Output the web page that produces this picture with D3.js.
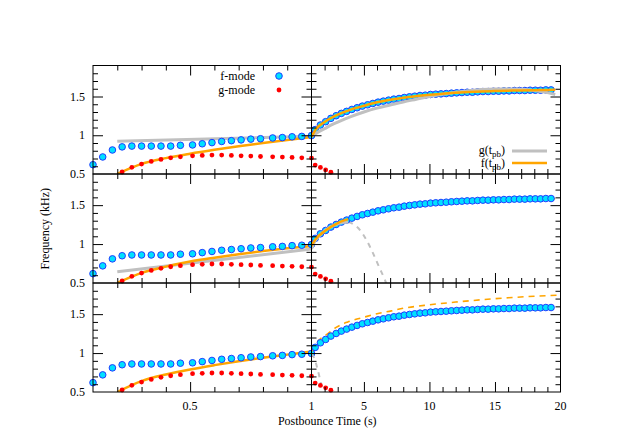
<!DOCTYPE html>
<html><head><meta charset="utf-8">
<script src="https://cdn.jsdelivr.net/npm/d3@7"></script>
<style>body{margin:0;background:#fff}text{font-family:"Liberation Serif","DejaVu Serif",serif;font-size:12px;fill:#000}</style>
</head><body><svg id="c" width="623" height="436"></svg>
<script>
// ---- data: mode frequencies (kHz) vs postbounce time (s)
const fTimesEarly = [0.10,0.14,0.18,0.22,0.26,0.30,0.34,0.38,0.42,0.46,0.51,0.55,0.59,0.63,0.67,0.71,0.75,0.79,0.84,0.88,0.92,0.96,1.00];
const fEarly = [0.62,0.72,0.81,0.85,0.86,0.86,0.86,0.86,0.86,0.87,0.875,0.89,0.905,0.92,0.93,0.94,0.95,0.955,0.965,0.97,0.98,0.985,0.995];
const gTimesEarly = [0.22,0.26,0.30,0.34,0.38,0.42,0.46,0.51,0.55,0.59,0.63,0.67,0.71,0.75,0.79,0.84,0.88,0.92,0.96,1.00];
const gEarly = [0.526,0.586,0.628,0.662,0.688,0.709,0.722,0.735,0.74,0.744,0.744,0.74,0.735,0.731,0.726,0.722,0.718,0.714,0.709,0.705];
const fTimesLate = [1.28,1.68,2.08,2.48,2.88,3.28,3.68,4.08,4.48,4.88,5.28,5.68,6.08,6.48,6.88,7.28,7.68,8.08,8.48,8.88,9.28,9.68,10.08,10.48,10.88,11.28,11.68,12.08,12.48,12.88,13.28,13.68,14.08,14.48,14.88,15.28,15.68,16.08,16.48,16.88,17.28,17.68,18.08,18.48,18.88,19.28];
const fLate = [1.073,1.132,1.175,1.218,1.252,1.282,1.308,1.333,1.355,1.376,1.393,1.41,1.427,1.44,1.453,1.466,1.474,1.487,1.496,1.504,1.513,1.517,1.526,1.53,1.534,1.538,1.543,1.547,1.551,1.555,1.555,1.56,1.564,1.564,1.568,1.568,1.572,1.572,1.577,1.577,1.577,1.581,1.581,1.581,1.585,1.585];
const gTimesLate = [1.28,1.68,2.08,2.48];
const gLate = [0.615,0.585,0.553,0.523];

// ---- fitted curves
const fitTimesEarly = [0.2,0.3,0.4,0.5,0.6,0.7,0.8,0.9,1.0];
const topOrangeEarly = [0.5,0.63,0.705,0.762,0.812,0.858,0.900,0.940,0.978];
const midOrangeEarly = [0.5,0.63,0.71,0.775,0.825,0.87,0.91,0.945,0.975];
const botOrangeEarly = [0.5,0.64,0.725,0.79,0.845,0.895,0.94,0.98,1.02];
const grayEarlyTimes = [0.2,1.0];
const topGrayEarly = [0.923,0.987];
const midGrayEarly = [0.645,0.936];

const topOrangeLateT = [1,1.3,2,3,4,5,6,7,8,9,10,11,12,13,14,15,16,17,18,19,19.6];
const topOrangeLate = [0.978,1.07,1.17,1.265,1.33,1.38,1.425,1.458,1.485,1.505,1.522,1.537,1.548,1.557,1.564,1.570,1.575,1.579,1.582,1.585,1.588];
const topGrayLateT = [1,1.5,2,2.6,3,4,5,6,7,8,9,10,11,12,13,14,15,16,17,18,19,19.6];
const topGrayLate = [0.987,1.04,1.085,1.14,1.17,1.24,1.30,1.35,1.39,1.43,1.465,1.50,1.53,1.555,1.575,1.59,1.597,1.598,1.593,1.578,1.55,1.525];

const midGraySolidT = [1,1.2,1.5,2,2.5,3,3.5,3.8];
const midGraySolid = [0.936,1.02,1.09,1.17,1.225,1.26,1.28,1.285];
const midGrayDashT = [3.8,4.2,4.7,5.2,5.7,6.2,6.6,6.8];
const midGrayDash = [1.285,1.255,1.18,1.05,0.88,0.69,0.54,0.45];
const midOrangeSolidT = [1,1.3,2,3,3.8];
const midOrangeSolid = [0.975,1.06,1.165,1.27,1.32];
const midOrangeDashT = [3.8,5,6,7,8,9,10,12,14,16,18,19.6];
const midOrangeDash = [1.32,1.38,1.42,1.453,1.48,1.50,1.517,1.54,1.556,1.568,1.578,1.583];

const botOrangeDashT = [1,1.36,2.25,2.88,3.77,5.1,6,7.1,8,10,12,14,16,18,20];
const botOrangeDash = [1.02,1.124,1.25,1.33,1.40,1.465,1.505,1.542,1.575,1.62,1.655,1.685,1.71,1.73,1.745];
const botGrayDashT = [1,1.23,1.45,1.6,1.74,1.9];
const botGrayDash = [0.99,0.93,0.80,0.70,0.59,0.47];

// ---- ticks / labels
const yMajor = [1.0,1.5];
const yMinor = [0.6,0.7,0.8,0.9,1.1,1.2,1.3,1.4,1.6,1.7,1.8];
const yLabels = [0.5,1,1.5];
const xLeftMajor = [0.5];
const xLeftMinor = [0.2,0.3,0.4,0.6,0.7,0.8,0.9];
const xLeftLabels = [0.5];
const xRightMajor = [5,10,15];
const xRightMinor = [2,3,4,6,7,8,9,11,12,13,14,16,17,18,19];
const xRightLabels = [1,5,10,15,20];

// ---- layout
const svg = d3.select("#c");
const X0 = 93, X1 = 311.5, X2 = 560.5;
const rows = [[65.5,174],[174,283],[283,392]];
const xL = d3.scaleLinear().domain([0.1,1]).range([X0,X1]);
const xR = d3.scaleLinear().domain([1,20]).range([X1,X2]);
const ys = rows.map(r => d3.scaleLinear().domain([0.5,1.9]).range([r[1],r[0]]));

const C_F = "#00e0ff", C_FS = "#1f3cff", C_G = "#ff0000", C_GRAY = "#c0c0c0", C_OR = "#ffa500";

const defs = svg.append("defs");
function clip(id, x, scaleY){
  defs.append("clipPath").attr("id", id).append("rect")
    .attr("x", x.range()[0]).attr("y", scaleY.range()[1])
    .attr("width", x.range()[1]-x.range()[0]).attr("height", scaleY.range()[0]-scaleY.range()[1]);
}
function zip(t, v){ return t.map((d,i)=>[d, v[i]]); }

function curve(g, x, y, t, v, color, w, dash){
  const line = d3.line().x(d=>x(d[0])).y(d=>y(d[1])).curve(d3.curveMonotoneX);
  g.append("path").attr("d", line(zip(t,v))).attr("fill","none")
    .attr("stroke", color).attr("stroke-width", w)
    .attr("stroke-dasharray", dash || null);
}
function points(g, x, y, t, v, kind){
  const data = zip(t,v).filter(d => d[1] >= 0.5 && d[1] <= 1.9);
  if (kind === "f") {
    g.selectAll(null).data(data).join("circle")
      .attr("cx", d=>x(d[0])).attr("cy", d=>y(d[1])).attr("r", 3.3)
      .attr("fill", C_F).attr("stroke", C_FS).attr("stroke-width", 1);
  } else {
    g.selectAll(null).data(data).join("circle")
      .attr("cx", d=>x(d[0])).attr("cy", d=>y(d[1])).attr("r", 2.4)
      .attr("fill", C_G);
  }
}
function ticks(g, x, y, xMaj, xMin){
  const [ya, yb] = [y.range()[1], y.range()[0]];
  const [xa, xb] = x.range();
  const mk = (gen, tr, vals, len) => g.append("g").attr("transform", tr)
      .call(gen.tickValues(vals).tickSize(-len).tickFormat(()=>""))
      .call(s => { s.select(".domain").remove(); s.selectAll("line").attr("stroke","#000").attr("stroke-width",1); });
  mk(d3.axisBottom(x), `translate(0,${yb})`, xMaj, 10);
  mk(d3.axisBottom(x), `translate(0,${yb})`, xMin, 5);
  mk(d3.axisTop(x), `translate(0,${ya})`, xMaj, 10);
  mk(d3.axisTop(x), `translate(0,${ya})`, xMin, 5);
  mk(d3.axisLeft(y), `translate(${xa},0)`, yMajor, 10);
  mk(d3.axisLeft(y), `translate(${xa},0)`, yMinor, 5);
  mk(d3.axisRight(y), `translate(${xb},0)`, yMajor, 10);
  mk(d3.axisRight(y), `translate(${xb},0)`, yMinor, 5);
}

const early = [
  {orange:[fitTimesEarly, topOrangeEarly], gray:[grayEarlyTimes, topGrayEarly]},
  {orange:[fitTimesEarly, midOrangeEarly], gray:[grayEarlyTimes, midGrayEarly]},
  {orange:[fitTimesEarly, botOrangeEarly], gray:null}
];

rows.forEach((r, i) => {
  const y = ys[i];
  clip("cl"+i, xL, y); clip("cr"+i, xR, y);
  // left panel
  const gl = svg.append("g");
  const glc = gl.append("g").attr("clip-path", `url(#cl${i})`);
  points(gl, xL, y, fTimesEarly, fEarly, "f");
  points(gl, xL, y, gTimesEarly, gEarly, "g");
  if (early[i].gray) curve(glc, xL, y, early[i].gray[0], early[i].gray[1], C_GRAY, 3);
  curve(glc, xL, y, early[i].orange[0], early[i].orange[1], C_OR, 2.5);
  // right panel
  const gr = svg.append("g");
  const grc1 = gr.append("g").attr("clip-path", `url(#cr${i})`);
  if (i === 1) {
    curve(grc1, xR, y, midOrangeDashT, midOrangeDash, C_OR, 1.6, "5,4");
    curve(grc1, xR, y, midGrayDashT, midGrayDash, C_GRAY, 2, "5,5");
  }
  if (i === 2) {
    curve(grc1, xR, y, botOrangeDashT, botOrangeDash, C_OR, 1.6, "6,5");
    curve(grc1, xR, y, botGrayDashT, botGrayDash, C_GRAY, 2, "5,5");
  }
  points(gr, xR, y, fTimesLate, fLate, "f");
  points(gr, xR, y, gTimesLate, gLate, "g");
  const grc2 = gr.append("g").attr("clip-path", `url(#cr${i})`);
  if (i === 0) {
    curve(grc2, xR, y, topGrayLateT, topGrayLate, C_GRAY, 3);
    curve(grc2, xR, y, topOrangeLateT, topOrangeLate, C_OR, 2.5);
  }
  if (i === 1) {
    curve(grc2, xR, y, midGraySolidT, midGraySolid, C_GRAY, 3);
    curve(grc2, xR, y, midOrangeSolidT, midOrangeSolid, C_OR, 2.5);
  }
  // frames and ticks
  [xL, xR].forEach(x => {
    svg.append("rect").attr("x", x.range()[0]).attr("y", r[0])
      .attr("width", x.range()[1]-x.range()[0]).attr("height", r[1]-r[0])
      .attr("fill","none").attr("stroke","#000").attr("stroke-width",1);
  });
  ticks(svg.append("g"), xL, y, xLeftMajor, xLeftMinor);
  ticks(svg.append("g"), xR, y, xRightMajor, xRightMinor);
  // y labels
  svg.append("g").selectAll(null).data(yLabels).join("text")
    .attr("x", 85).attr("y", d => y(d)).attr("dy","0.35em").attr("text-anchor","end").text(d => d);
});

// x labels
const yb = rows[2][1];
svg.append("g").selectAll(null).data(xLeftLabels).join("text")
  .attr("x", d=>xL(d)).attr("y", yb+18).attr("text-anchor","middle").text(d=>d);
svg.append("g").selectAll(null).data(xRightLabels).join("text")
  .attr("x", d=>xR(d)).attr("y", yb+18).attr("text-anchor","middle").text(d=>d);

svg.append("text").attr("x", (X0+X2)/2 + 0.5).attr("y", 425).attr("text-anchor","middle").text("Postbounce Time (s)");
svg.append("text").attr("transform", `translate(49,${(rows[0][0]+rows[2][1])/2}) rotate(-90)`)
  .attr("text-anchor","middle").text("Frequency (kHz)");

// legend (top-left)
svg.append("text").attr("x", 255).attr("y", 80).attr("text-anchor","end").text("f-mode");
svg.append("text").attr("x", 255).attr("y", 94).attr("text-anchor","end").text("g-mode");
svg.append("circle").attr("cx", 279).attr("cy", 76).attr("r", 3.3).attr("fill", C_F).attr("stroke", C_FS).attr("stroke-width", 1);
svg.append("circle").attr("cx", 279).attr("cy", 90).attr("r", 2.4).attr("fill", C_G);

// legend (top-right)
function subLabel(x, yy, name){
  const t = svg.append("text").attr("x", x).attr("y", yy).attr("text-anchor","end");
  t.append("tspan").text(name + "(t");
  t.append("tspan").attr("dy", 3).attr("font-size", "9px").text("pb");
  t.append("tspan").attr("dy", -3).text(")");
}
subLabel(505, 154, "g");
subLabel(505, 167, "f");
svg.append("line").attr("x1",512).attr("x2",547).attr("y1",151).attr("y2",151).attr("stroke",C_GRAY).attr("stroke-width",3);
svg.append("line").attr("x1",512).attr("x2",547).attr("y1",163).attr("y2",163).attr("stroke",C_OR).attr("stroke-width",2.5);
</script></body></html>
